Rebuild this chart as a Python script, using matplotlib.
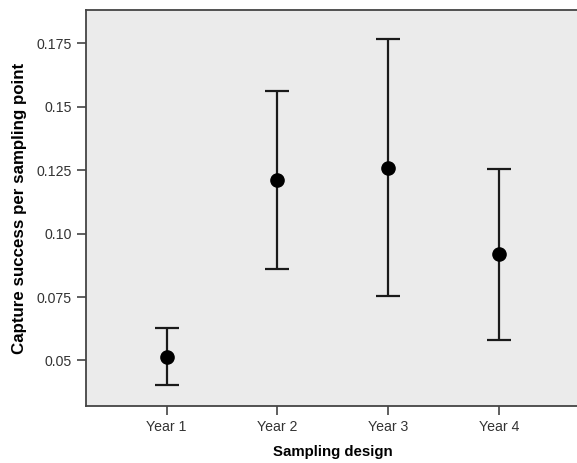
import matplotlib
matplotlib.use("Agg")
import matplotlib.pyplot as plt

categories = ["Year 1", "Year 2", "Year 3", "Year 4"]
means = [0.0515, 0.1211, 0.1257, 0.0919]
upper = [0.0629, 0.1563, 0.1767, 0.1255]
lower = [0.0402, 0.0862, 0.0752, 0.0580]
yticks = [0.05, 0.075, 0.10, 0.125, 0.15, 0.175]
ytick_labels = ["0.05", "0.075", "0.10", "0.125", "0.15", "0.175"]

plt.rcParams['font.family'] = ['Liberation Sans', 'DejaVu Sans']

fig = plt.figure(figsize=(5.77, 4.63), dpi=100)
ax = fig.add_axes([0.149, 0.123, 0.856, 0.855])
ax.set_facecolor("#ebebeb")

x = list(range(len(categories)))
yerr = [[m - l for m, l in zip(means, lower)], [u - m for m, u in zip(means, upper)]]
ax.errorbar(x, means, yerr=yerr, fmt='o', color='black', ecolor='#1a1a1a',
            elinewidth=1.6, capsize=8.3, capthick=1.6, markersize=9.5, zorder=3)

ax.set_xlim(-0.727, 3.727)
ax.set_ylim(0.032, 0.1881)
ax.set_xticks(x)
ax.set_xticklabels(categories)
ax.set_yticks(yticks)
ax.set_yticklabels(ytick_labels)

for s in ax.spines.values():
    s.set_color('#444444')
    s.set_linewidth(1.3)
ax.spines['right'].set_visible(False)

ax.tick_params(axis='both', direction='out', length=6.5, width=1.2, color='#444444',
               labelsize=10.2, labelcolor='#333333')
ax.set_xlabel("Sampling design", fontsize=10.8, fontweight='bold', labelpad=8)
ax.set_ylabel("Capture success per sampling point", fontsize=12.2, fontweight='bold', labelpad=7)

fig.savefig("out.png", dpi=100)
